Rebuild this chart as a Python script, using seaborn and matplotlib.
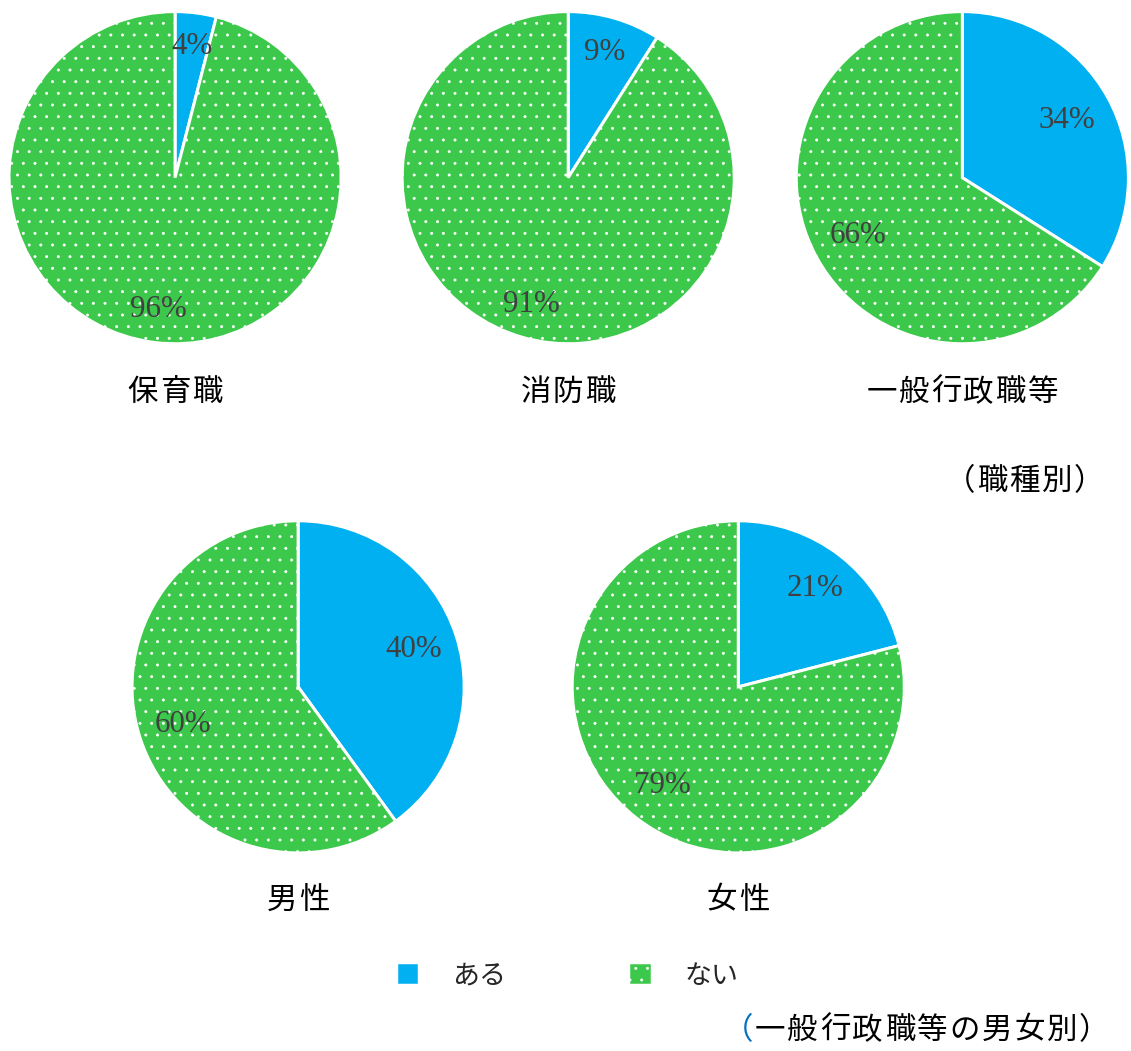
import numpy as np
import pandas as pd
import seaborn as sns
import matplotlib
matplotlib.use("Agg")
import matplotlib.pyplot as plt
from matplotlib.patches import Patch

# ---------------- data ----------------
categories_top = ["保育職", "消防職", "一般行政職等"]
aru_top = [4, 9, 34]
nai_top = [96, 91, 66]
categories_bottom = ["男性", "女性"]
aru_bottom = [40, 21]
nai_bottom = [60, 79]
legend_labels = ["ある", "ない"]
note_top = "（職種別）"
note_bottom = "（一般行政職等の男女別）"

# ---------------- style ----------------
DPI = 70
W, H = 1131, 1051


def pt(px):
    return px * 72.0 / DPI


sns.set_theme(style="white")
plt.rcParams["font.family"] = ["Noto Sans CJK JP", "DejaVu Sans"]
plt.rcParams["hatch.linewidth"] = 0.6

BLUE = "#00B0F0"
GREEN = "#3CC84A"
PCT_COLOR = "#404040"
palette = sns.color_palette([BLUE, GREEN])

fig = plt.figure(figsize=((W + 0.4) / DPI, (H + 0.4) / DPI), dpi=DPI)
fig.patch.set_facecolor("white")

R = 166  # pie radius in px
TXT = 30.5


def spaced(x_first, y, text, step, size, colors=None):
    """Place characters one by one with a fixed pitch (full-width layout)."""
    for i, ch in enumerate(text):
        x = x_first + i * step
        c = colors[i] if colors is not None else "black"
        fig.text(x / W, 1 - y / H, ch, ha="center", va="center",
                 fontsize=pt(size), color=c)


def add_pie(cx, cy, aru, nai, label, pctd, label_y):
    ax = fig.add_axes([(cx - R) / W, (H - cy - R) / H, 2 * R / W, 2 * R / H])
    df = pd.DataFrame({"answer": legend_labels, "value": [aru, nai]})
    wedges, texts, autotexts = ax.pie(
        df["value"], colors=palette, startangle=90, counterclock=False,
        autopct=lambda p: f"{p:.0f}%", pctdistance=pctd,
        wedgeprops=dict(edgecolor="white", linewidth=pt(3)),
        textprops=dict(fontsize=pt(31), color=PCT_COLOR,
                       family="Liberation Serif"))
    wedges[1].set_hatch(".")
    ax.set_xlim(-1.0, 1.0)
    ax.set_ylim(-1.0, 1.0)
    ax.set_aspect("equal")
    ax.axis("off")
    step = 32.2
    n = len(label)
    spaced(cx - (n - 1) / 2 * step, label_y, label, step, TXT)
    return wedges


top_cx = [175, 568, 962]
top_pctd = [0.80, 0.79, 0.72]
for cx, a, n, lab, pd_ in zip(top_cx, aru_top, nai_top, categories_top, top_pctd):
    add_pie(cx, 178, a, n, lab, pd_, 392)

bot_cx = [298, 738]
bot_pctd = [0.73, 0.75]
for cx, a, n, lab, pd_ in zip(bot_cx, aru_bottom, nai_bottom, categories_bottom, bot_pctd):
    add_pie(cx, 687, a, n, lab, pd_, 900)

# notes
spaced(959.7, 481, note_top, 32.3, TXT)
spaced(737.6, 1030, note_bottom, 32.4, TXT,
       colors=["#0070C0"] + ["black"] * (len(note_bottom) - 1))

# legend
handles = [Patch(facecolor=BLUE, edgecolor="white", linewidth=0.5),
           Patch(facecolor=GREEN, edgecolor="white", linewidth=0.5, hatch=".")]
leg = fig.legend(handles, legend_labels, loc="center",
                 bbox_to_anchor=(568 / W, 1 - 976 / H), ncol=2,
                 frameon=False, fontsize=pt(27), handlelength=0.75,
                 handleheight=0.75, handletextpad=1.25, columnspacing=4.6)

fig.savefig("out.png", dpi=DPI, facecolor="white")
